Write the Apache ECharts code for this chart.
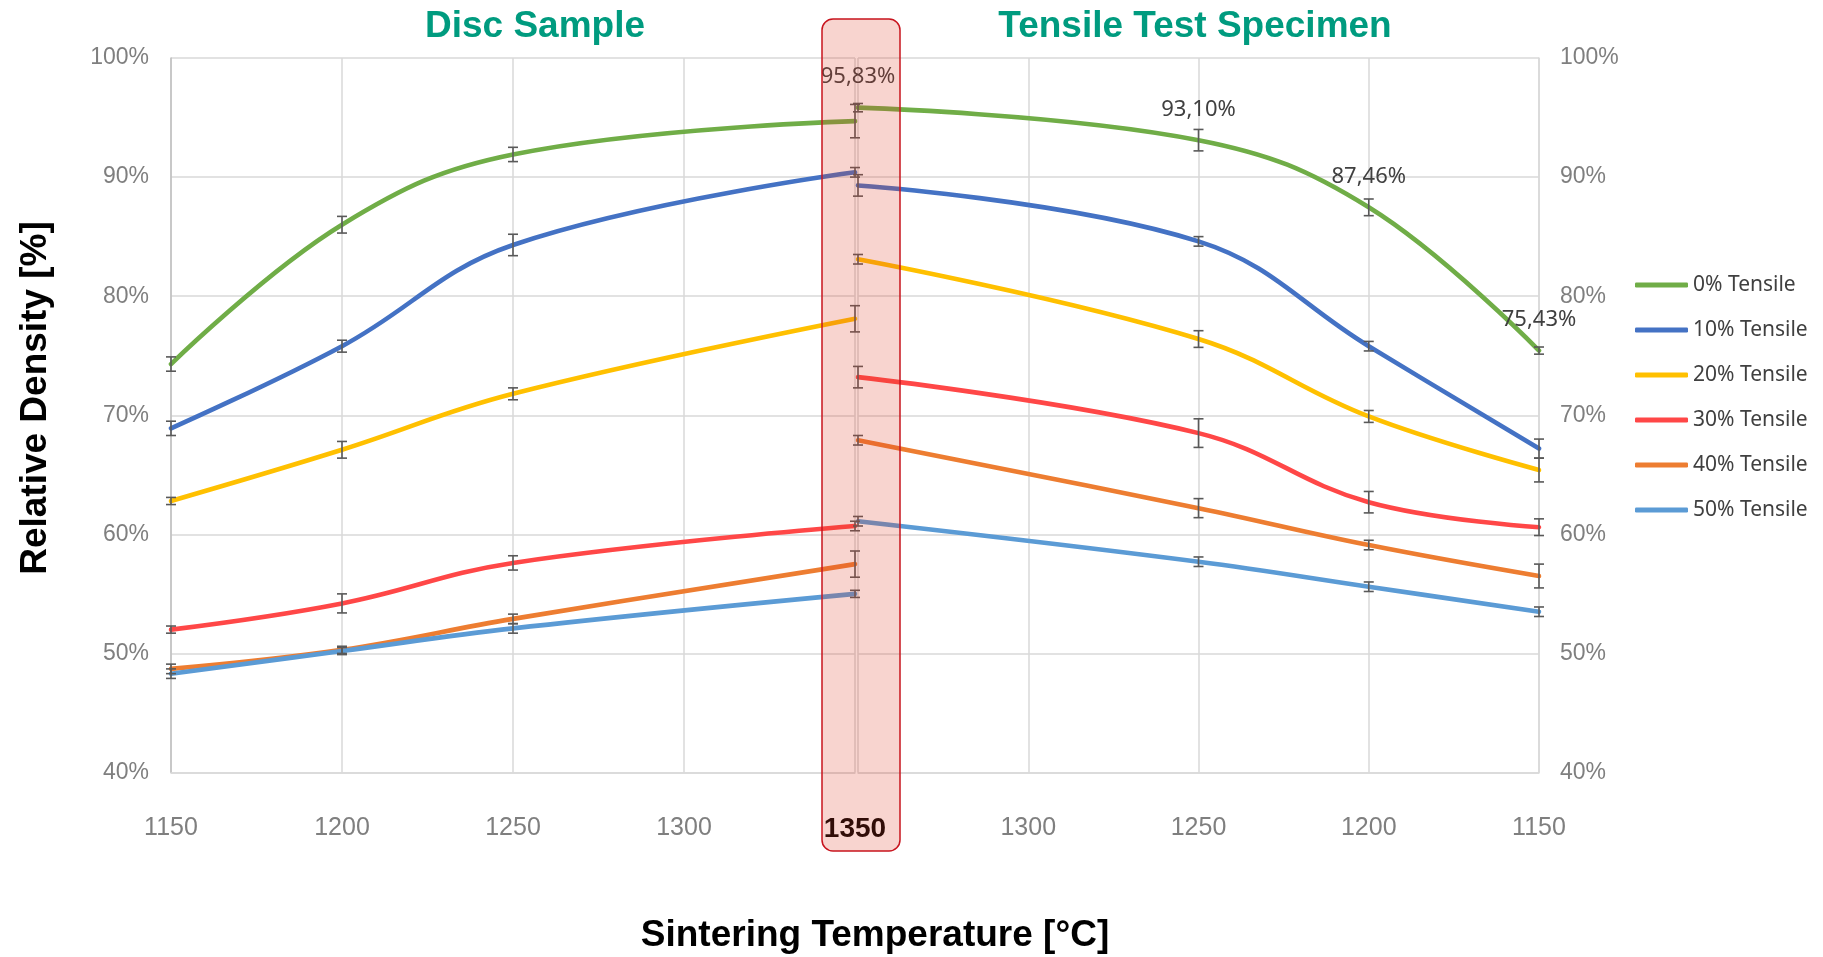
<!DOCTYPE html>
<html>
<head>
<meta charset="utf-8">
<title>Relative Density vs Sintering Temperature</title>
<script src="https://cdn.jsdelivr.net/npm/echarts@6/dist/echarts.min.js"></script>
<style>
  html, body { margin: 0; padding: 0; background: #fff; }
  #chart { width: 1823px; height: 957px; }
</style>
</head>
<body>
<div id="chart"></div>
<script>
// Sintering temperatures (°C)
const tempTicks = [1150, 1200, 1250, 1300, 1350];
const densityTicks = [40, 50, 60, 70, 80, 90, 100];
const discTemps = [1150, 1200, 1250, 1350];
const tensileTemps = [1350, 1250, 1200, 1150];

const seriesNames = ['0% Tensile', '10% Tensile', '20% Tensile', '30% Tensile', '40% Tensile', '50% Tensile'];
const seriesColors = ['#70AD47', '#4472C4', '#FFC000', '#FF4747', '#ED7D31', '#5B9BD5'];

// Disc sample relative density (%) and standard deviation
const disc0 = [74.3, 86.0, 91.9, 94.7];
const disc0Err = [0.6, 0.7, 0.6, 1.4];
const disc10 = [68.9, 75.8, 84.3, 90.4];
const disc10Err = [0.6, 0.5, 0.9, 0.4];
const disc20 = [62.8, 67.1, 71.8, 78.1];
const disc20Err = [0.3, 0.7, 0.5, 1.1];
const disc30 = [52.0, 54.2, 57.6, 60.7];
const disc30Err = [0.3, 0.8, 0.6, 0.4];
const disc40 = [48.7, 50.3, 52.9, 57.5];
const disc40Err = [0.4, 0.3, 0.4, 1.1];
const disc50 = [48.3, 50.2, 52.1, 55.0];
const disc50Err = [0.4, 0.3, 0.4, 0.3];

// Tensile test specimen relative density (%) and standard deviation
const tens0 = [95.83, 93.10, 87.46, 75.43];
const tens0Err = [0.35, 0.9, 0.7, 0.3];
const tens10 = [89.3, 84.6, 75.8, 67.2];
const tens10Err = [0.9, 0.4, 0.4, 0.8];
const tens20 = [83.1, 76.4, 69.9, 65.4];
const tens20Err = [0.4, 0.7, 0.5, 1.0];
const tens30 = [73.2, 68.5, 62.7, 60.6];
const tens30Err = [0.9, 1.2, 0.9, 0.7];
const tens40 = [67.9, 62.2, 59.1, 56.5];
const tens40Err = [0.4, 0.8, 0.4, 1.0];
const tens50 = [61.1, 57.7, 55.6, 53.5];
const tens50Err = [0.4, 0.4, 0.4, 0.4];

const discValues = [disc0, disc10, disc20, disc30, disc40, disc50];
const discErrors = [disc0Err, disc10Err, disc20Err, disc30Err, disc40Err, disc50Err];
const tensValues = [tens0, tens10, tens20, tens30, tens40, tens50];
const tensErrors = [tens0Err, tens10Err, tens20Err, tens30Err, tens40Err, tens50Err];

const AX_FONT = '"Liberation Sans", Arial, sans-serif';
const LBL_FONT = '"Noto Sans", "Open Sans", sans-serif';
const GRID_COLOR = '#D9D9D9';
const TICK_COLOR = '#7F7F7F';

function pct(v) { return v.toFixed(2).replace('.', ',') + '%'; }

function lineSeries(name, color, axis, temps, vals, withLabels) {
  return {
    type: 'line',
    name: name,
    xAxisIndex: axis,
    yAxisIndex: axis,
    data: temps.map((t, i) => [t, vals[i]]),
    smooth: 0.4,
    // labelled series keep tiny symbols so their value labels are drawn
    showSymbol: withLabels,
    symbol: 'circle',
    symbolSize: 1,
    z: 2,
    lineStyle: { color: color, width: 4.6, cap: 'round', join: 'round' },
    itemStyle: { color: color },
    label: withLabels ? {
      show: true,
      position: 'top',
      distance: 19,
      color: '#404040',
      fontFamily: LBL_FONT,
      fontSize: 22,
      formatter: p => pct(p.value[1])
    } : { show: false },
    emphasis: { disabled: true },
    animation: false
  };
}

function errorSeries(name, axis, temps, vals, errs) {
  return {
    type: 'custom',
    name: 'sd ' + name,
    xAxisIndex: axis,
    yAxisIndex: axis,
    z: 4,
    silent: true,
    animation: false,
    data: temps.map((t, i) => [t, vals[i] - errs[i], vals[i] + errs[i]]),
    encode: { x: 0, y: [1, 2] },
    renderItem: function (params, api) {
      const lo = api.coord([api.value(0), api.value(1)]);
      const hi = api.coord([api.value(0), api.value(2)]);
      const w = 5;
      const st = { stroke: '#595959', lineWidth: 1.6 };
      return {
        type: 'group',
        children: [
          { type: 'line', shape: { x1: lo[0], y1: lo[1], x2: hi[0], y2: hi[1] }, style: st },
          { type: 'line', shape: { x1: lo[0] - w, y1: lo[1], x2: lo[0] + w, y2: lo[1] }, style: st },
          { type: 'line', shape: { x1: hi[0] - w, y1: hi[1], x2: hi[0] + w, y2: hi[1] }, style: st }
        ]
      };
    }
  };
}

const series = [];
seriesNames.forEach((name, k) => {
  series.push(lineSeries(name, seriesColors[k], 0, discTemps, discValues[k], false));
  series.push(lineSeries(name, seriesColors[k], 1, tensileTemps, tensValues[k], k === 0));
});
seriesNames.forEach((name, k) => {
  series.push(errorSeries(name, 0, discTemps, discValues[k], discErrors[k]));
  series.push(errorSeries(name, 1, tensileTemps, tensValues[k], tensErrors[k]));
});

function xAxisFor(index, inverse) {
  return {
    type: 'value',
    gridIndex: index,
    min: tempTicks[0],
    max: tempTicks[tempTicks.length - 1],
    interval: 50,
    inverse: inverse,
    axisLine: { show: true, lineStyle: { color: GRID_COLOR, width: 1.5 } },
    axisTick: { show: false },
    splitLine: { show: true, lineStyle: { color: GRID_COLOR, width: 1.5 } },
    axisLabel: {
      margin: 43,
      color: TICK_COLOR,
      fontFamily: AX_FONT,
      fontSize: 25,
      formatter: function (v) {
        if (v === 1350) return index === 0 ? '{peak|1350}' : '';
        return String(v);
      },
      rich: {
        peak: { color: '#000', fontWeight: 'bold', fontSize: 28, fontFamily: AX_FONT }
      }
    }
  };
}

function yAxisFor(index, position) {
  return {
    type: 'value',
    gridIndex: index,
    position: position,
    min: densityTicks[0],
    max: densityTicks[densityTicks.length - 1],
    interval: 10,
    axisLine: { show: true, lineStyle: { color: index === 0 ? '#BFBFBF' : GRID_COLOR, width: 1.5 } },
    axisTick: { show: false },
    splitLine: { show: true, lineStyle: { color: GRID_COLOR, width: 1.5 } },
    axisLabel: {
      margin: index === 0 ? 22 : 21,
      color: TICK_COLOR,
      fontFamily: AX_FONT,
      fontSize: 23,
      formatter: v => v + '%'
    }
  };
}

const chart = echarts.init(document.getElementById('chart'), null, { renderer: 'canvas' });
chart.setOption({
  backgroundColor: '#ffffff',
  animation: false,
  grid: [
    { left: 171, right: 1823 - 855, top: 58, bottom: 957 - 772.5 },
    { left: 858, right: 1823 - 1539, top: 58, bottom: 957 - 772.5 }
  ],
  xAxis: [xAxisFor(0, false), xAxisFor(1, true)],
  yAxis: [yAxisFor(0, 'left'), yAxisFor(1, 'right')],
  legend: {
    data: seriesNames.map(n => ({ name: n, icon: 'roundRect' })),
    orient: 'vertical',
    left: 1630,
    top: 268,
    itemWidth: 53,
    itemHeight: 5,
    itemGap: 21,
    selectedMode: false,
    textStyle: { color: '#404040', fontFamily: LBL_FONT, fontSize: 21, lineHeight: 24 }
  },
  graphic: [
    {
      type: 'text', x: 535, y: 27, z: 50,
      style: { text: 'Disc Sample', fill: '#009B7F', font: 'bold 37px ' + AX_FONT, textAlign: 'center', textVerticalAlign: 'middle' }
    },
    {
      type: 'text', x: 1195, y: 27, z: 50,
      style: { text: 'Tensile Test Specimen', fill: '#009B7F', font: 'bold 37px ' + AX_FONT, textAlign: 'center', textVerticalAlign: 'middle' }
    },
    {
      type: 'text', x: 875, y: 936, z: 50,
      style: { text: 'Sintering Temperature [°C]', fill: '#000', font: 'bold 37px ' + AX_FONT, textAlign: 'center', textVerticalAlign: 'middle' }
    },
    {
      type: 'text', x: 36, y: 398, rotation: Math.PI / 2, z: 50,
      style: { text: 'Relative Density [%]', fill: '#000', font: 'bold 37px ' + AX_FONT, textAlign: 'center', textVerticalAlign: 'middle' }
    },
    {
      type: 'rect', z: 100, silent: true,
      shape: { x: 822, y: 19, width: 78, height: 832, r: 11 },
      style: { fill: 'rgba(225,60,35,0.22)', stroke: '#C8141E', lineWidth: 1.5 }
    }
  ],
  series: series
});
</script>
</body>
</html>
